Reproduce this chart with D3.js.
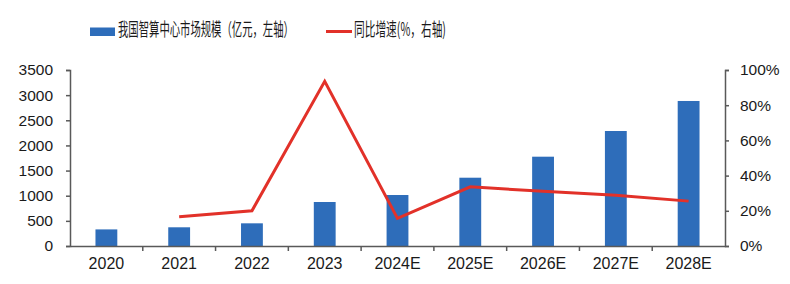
<!DOCTYPE html>
<html>
<head>
<meta charset="utf-8">
<script src="https://cdn.jsdelivr.net/npm/d3@7"></script>
<style>
  body { margin: 0; background: #fff; }
  svg { display: block; }
</style>
</head>
<body>
<div id="chart"></div>
<script>
// categorias e séries
var years = ['2020', '2021', '2022', '2023', '2024E', '2025E', '2026E', '2027E', '2028E'];
var scale = [330, 372, 451, 875, 1014, 1358, 1776, 2287, 2884];      // 亿元, eixo esquerdo
var growth = [null, 16.6, 20.0, 93.6, 15.7, 33.6, 31.1, 28.9, 25.5]; // %, eixo direito
var leftTicks = [0, 500, 1000, 1500, 2000, 2500, 3000, 3500];
var rightTicks = [0, 20, 40, 60, 80, 100];
var legendNames = ['我国智算中心市场规模（亿元，左轴）', '同比增速(%，右轴)'];

var W = 790, H = 284;
var m = {top: 70, bottom: 38, left: 70, right: 65};
var barColor = '#2e6dba', lineColor = '#e23129', axisColor = '#595959';

var svg = d3.select('#chart').append('svg')
  .attr('width', W).attr('height', H);

var x = d3.scaleBand().domain(years).range([m.left, W - m.right]).paddingInner(0.7).paddingOuter(0.35);
var xb = d3.scaleBand().domain(years).range([m.left, W - m.right]);
var yL = d3.scaleLinear().domain([0, 3500]).range([H - m.bottom, m.top]);
var yR = d3.scaleLinear().domain([0, 100]).range([H - m.bottom, m.top]);

// barras
svg.append('g').selectAll('rect')
  .data(years)
  .enter().append('rect')
  .attr('x', function(d) { return x(d); })
  .attr('y', function(d, i) { return yL(scale[i]); })
  .attr('width', x.bandwidth())
  .attr('height', function(d, i) { return yL(0) - yL(scale[i]); })
  .attr('fill', barColor);

// eixos
function styleAxis(g, size) {
  g.selectAll('path, line').attr('stroke', axisColor).attr('stroke-width', 1.5);
  g.selectAll('text').attr('fill', '#1a1a1a')
    .style('font-family', '"Liberation Sans", Arial, sans-serif')
    .style('font-size', size + 'px');
}

var xAxisG = svg.append('g')
  .attr('transform', 'translate(0,' + (H - m.bottom) + ')')
  .call(d3.axisBottom(xb).tickSize(0).tickPadding(12));
styleAxis(xAxisG, 16);
// ticks entre categorias
xAxisG.selectAll('.sep')
  .data(years.slice(1))
  .enter().append('line')
  .attr('class', 'sep')
  .attr('x1', function(d) { return xb(d); })
  .attr('x2', function(d) { return xb(d); })
  .attr('y1', 0).attr('y2', 5)
  .attr('stroke', axisColor).attr('stroke-width', 1.5);

var yLG = svg.append('g')
  .attr('transform', 'translate(' + m.left + ',0)')
  .call(d3.axisLeft(yL).tickValues(leftTicks).tickSize(4).tickPadding(13).tickSizeOuter(4)
    .tickFormat(d3.format('d')));
styleAxis(yLG, 15.5);

var yRG = svg.append('g')
  .attr('transform', 'translate(' + (W - m.right) + ',0)')
  .call(d3.axisRight(yR).tickValues(rightTicks).tickSize(4).tickPadding(11).tickSizeOuter(4)
    .tickFormat(function(d) { return d + '%'; }));
styleAxis(yRG, 15.5);

// linha de crescimento
var pts = years.map(function(d, i) { return {c: d, v: growth[i]}; })
  .filter(function(p) { return p.v !== null; });

var line = d3.line()
  .x(function(d) { return xb(d.c) + xb.bandwidth() / 2; })
  .y(function(d) { return yR(d.v); });

svg.append('path')
  .datum(pts)
  .attr('d', line)
  .attr('fill', 'none')
  .attr('stroke', lineColor)
  .attr('stroke-width', 3)
  .attr('stroke-linejoin', 'miter');

// legenda (texto comprimido na horizontal como na figura)
var leg = svg.append('g')
  .style('font-family', '"Noto Sans CJK SC", sans-serif')
  .style('font-size', '18px');

function squeezedText(px, py, w, txt) {
  var g = leg.append('g');
  var t = g.append('text').attr('fill', '#1a1a1a').text(txt);
  var natural = t.node().getComputedTextLength();
  g.attr('transform', 'translate(' + px + ',' + py + ') scale(' + (w / natural) + ',1)');
}

leg.append('rect')
  .attr('x', 90).attr('y', 27.5).attr('width', 25).attr('height', 8.5)
  .attr('fill', barColor);
squeezedText(118, 36, 176, legendNames[0]);

leg.append('line')
  .attr('x1', 326).attr('x2', 352).attr('y1', 31.5).attr('y2', 31.5)
  .attr('stroke', lineColor).attr('stroke-width', 3);
squeezedText(354, 36, 92, legendNames[1]);
</script>
</body>
</html>
